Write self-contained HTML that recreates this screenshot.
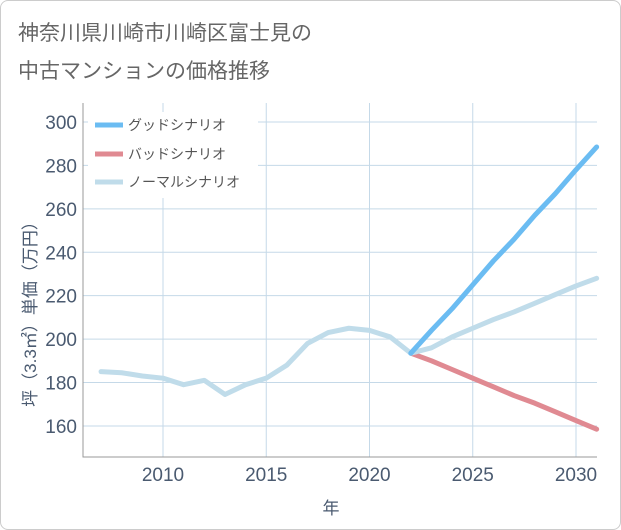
<!DOCTYPE html>
<html><head><meta charset="utf-8"><style>
body{margin:0;background:#fff;}
#card{position:absolute;left:0;top:0;width:619px;height:528px;border:1px solid #ccc;border-radius:8px;background:#fff;}
</style></head><body>
<div id="card"></div>
<svg id="chart" width="621" height="530" style="position:absolute;left:0;top:0" font-family="'Liberation Sans','Noto Sans CJK JP',sans-serif">
<text x="18" y="40" font-size="21" fill="#666">神奈川県川崎市川崎区富士見の</text>
<text x="18" y="78" font-size="21" fill="#666">中古マンションの価格推移</text>
<g id="grid"></g><g id="series"></g><g id="axes"></g>
</svg>
<script>
const years=[2007,2008,2009,2010,2011,2012,2013,2014,2015,2016,2017,2018,2019,2020,2021,2022,2023,2024,2025,2026,2027,2028,2029,2030,2031];
const normal=[185,184.5,183,182,179,181,174.5,179,182,188,198,203,205,204,201,193.5,196,201,205,209,212.5,216.5,220.5,224.5,228];
const fyears=[2022,2023,2024,2025,2026,2027,2028,2029,2030,2031];
const good=[193.5,204,214,225,236,246,257,267,278,288.5];
const bad=[193.5,190,186,182,178,174,170.5,166.5,162.5,158.5];
const xTicks=[2010,2015,2020,2025,2030];
const yTicks=[160,180,200,220,240,260,280,300];
const L=83,R=597,T=103,B=457;
const x=v=>163+(v-2010)*20.65;
const y=v=>122+(300-v)*2.171;
const NS='http://www.w3.org/2000/svg';
function mk(p,t,a){const e=document.createElementNS(NS,t);for(const k in a)e.setAttribute(k,a[k]);p.appendChild(e);return e;}
const g=document.getElementById('grid'),s=document.getElementById('series'),ax=document.getElementById('axes');
yTicks.forEach(v=>{const l=mk(g,'line',{x1:L,x2:R,y1:y(v),y2:y(v),stroke:'#c5d9e8','stroke-width':1});

const t=mk(ax,'text',{x:L-6,y:y(v)+7,'text-anchor':'end','font-size':19,fill:'#4a5a70'});t.textContent=v;
});
xTicks.forEach(v=>{const l=mk(g,'line',{x1:x(v),x2:x(v),y1:T,y2:B,stroke:'#c5d9e8','stroke-width':1});

const t=mk(ax,'text',{x:x(v),y:B+24,'text-anchor':'middle','font-size':19,fill:'#4a5a70'});t.textContent=v;
});
const frame=mk(ax,'path',{d:`M${L},${T}V${B}H${R}`,fill:'none',stroke:'#999','stroke-width':1});

function line(xs,ys,c,n){const p=mk(s,'polyline',{points:xs.map((v,i)=>x(v)+','+y(ys[i])).join(' '),fill:'none',stroke:c,'stroke-width':5,'stroke-linejoin':'round','stroke-linecap':'round'});
}
line(fyears,bad,'#e08a92','bad-scenario-line');
line(years,normal,'#c0dcea','normal-scenario-line');
line(fyears,good,'#6bbcf2','good-scenario-line');
const lg=mk(ax,'rect',{x:88,y:112,width:170,height:86,fill:'#fff'});

[['グッドシナリオ','#6bbcf2',125],['バッドシナリオ','#e08a92',154],['ノーマルシナリオ','#c0dcea',182]].forEach(([n,c,yy])=>{
const l=mk(ax,'line',{x1:95,x2:123,y1:yy,y2:yy,stroke:c,'stroke-width':5});

const t=mk(ax,'text',{x:128,y:yy+5,'font-size':14,fill:'#555'});t.textContent=n;
});
const xt=mk(ax,'text',{x:331,y:514,'text-anchor':'middle','font-size':17,fill:'#4a5a70'});xt.textContent='年';

const yt=mk(ax,'text',{x:0,y:0,'text-anchor':'middle','font-size':17,fill:'#4a5a70',transform:'translate(36,310) rotate(-90)'});yt.textContent='坪（3.3㎡）単価（万円）';

</script>
</body></html>
